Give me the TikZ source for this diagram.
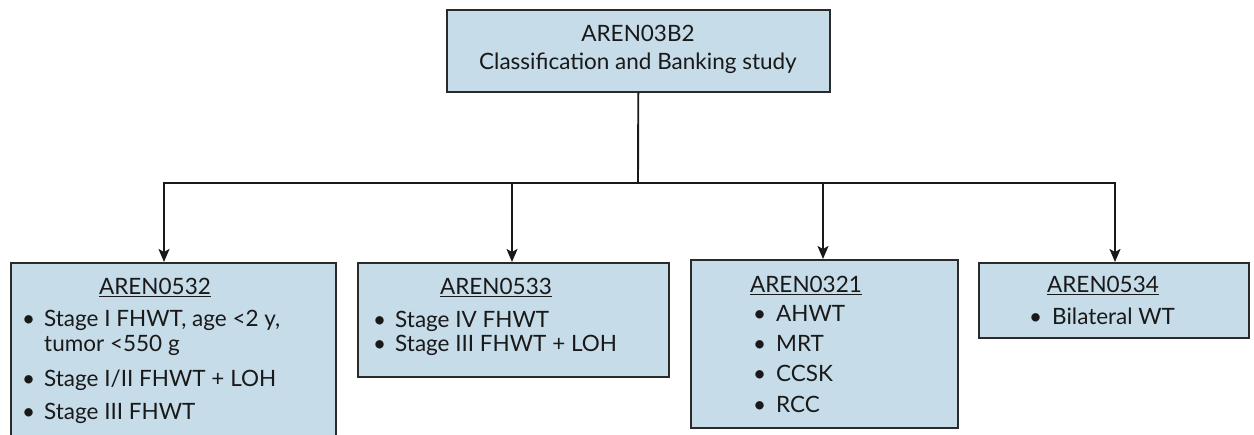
\documentclass[tikz,border=0pt]{standalone}
\usepackage{fontspec}
\setmainfont{Lato}
\usetikzlibrary{arrows.meta}
\definecolor{boxfill}{HTML}{C6DCE8}
\definecolor{boxline}{HTML}{2A2A2A}
\tikzset{
  box/.style={draw=boxline, line width=1.6pt, fill=boxfill, anchor=north west, inner sep=0pt},
  txt/.style={anchor=base west, inner sep=0pt, font=\fontsize{22.5}{26}\selectfont, text=black!90},
  ttl/.style={anchor=base, inner sep=0pt, font=\fontsize{22.5}{26}\selectfont, text=black!90},
  conn/.style={line width=1.9pt, black!90},
  arr/.style={conn, -{Stealth[length=13pt,width=11pt,inset=3pt]}}
}
\newcommand{\ul}[1]{\underline{#1}}
\begin{document}
\begin{tikzpicture}[x=1pt,y=-1pt]
\useasboundingbox (0,0) rectangle (1254,435);
\clip (0,0) rectangle (1254,435);
% top box
\node[box, minimum width=383pt, minimum height=82pt] (top) at (446,9) {};
\node[ttl] (t1) at (638,42) {AREN03B2};
\node[ttl] (t2) at (638,70) {Classification and Banking study};
% boxes
\node[box, minimum width=325pt, minimum height=200pt] (b1) at (10,262) {};
\node[box, minimum width=311pt, minimum height=114pt] (b2) at (357,262) {};
\node[box, minimum width=267pt, minimum height=168pt] (b3) at (690,259) {};
\node[box, minimum width=270pt, minimum height=75pt] (b4) at (978,262) {};
% connectors
\coordinate (j) at (638,183);
\coordinate (a1) at (164,262);
\coordinate (a2) at (512,262);
\coordinate (a3) at (823,259);
\coordinate (a4) at (1115,262);
\draw[conn] (top.south) -- (j);
\draw[arr] (j) -| (a1);
\draw[arr] (j) -| (a2);
\draw[arr] (j) -| (a3);
\draw[arr] (j) -| (a4);
% box 1 text
\node[ttl] (h1) at (155,295) {\ul{AREN0532}};
\node[txt] (b1a) at (22,327) {\textbullet};
\node[txt] (b1at) at (44,327) {Stage I FHWT, age <2 y,};
\node[txt] (b1bt) at (44,352) {tumor <550 g};
\node[txt] (b1c) at (22,387) {\textbullet};
\node[txt] (b1ct) at (44,387) {Stage I/II FHWT + LOH};
\node[txt] (b1d) at (22,420) {\textbullet};
\node[txt] (b1dt) at (44,420) {Stage III FHWT};
% box 2 text
\node[ttl] (h2) at (496,295) {\ul{AREN0533}};
\node[txt] (b2a) at (373,328) {\textbullet};
\node[txt] (b2at) at (395,328) {Stage IV FHWT};
\node[txt] (b2b) at (373,352) {\textbullet};
\node[txt] (b2bt) at (395,352) {Stage III FHWT + LOH};
% box 3 text
\node[ttl] (h3) at (806,293) {\ul{AREN0321}};
\node[txt] (b3a) at (753,322) {\textbullet};
\node[txt] (b3at) at (776,322) {AHWT};
\node[txt] (b3b) at (753,352) {\textbullet};
\node[txt] (b3bt) at (776,352) {MRT};
\node[txt] (b3c) at (753,382) {\textbullet};
\node[txt] (b3ct) at (776,382) {CCSK};
\node[txt] (b3d) at (753,413) {\textbullet};
\node[txt] (b3dt) at (776,413) {RCC};
% box 4 text
\node[ttl] (h4) at (1103,293) {\ul{AREN0534}};
\node[txt] (b4a) at (1029,325) {\textbullet};
\node[txt] (b4at) at (1052,325) {Bilateral WT};
\end{tikzpicture}
\end{document}
